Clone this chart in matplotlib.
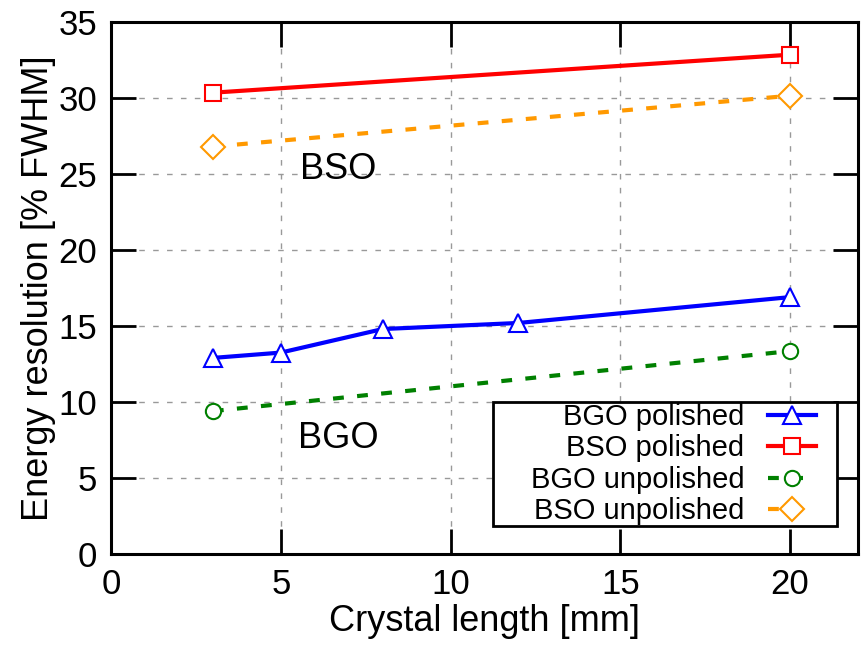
import matplotlib
matplotlib.use("Agg")
import matplotlib.pyplot as plt
from matplotlib.patches import Rectangle

plt.rcParams['font.family'] = ['Liberation Sans', 'DejaVu Sans']

bgo_pol_x = [3, 5, 8, 12, 20]
bgo_pol_y = [12.9, 13.25, 14.8, 15.2, 16.9]
bso_pol_x = [3, 20]
bso_pol_y = [30.35, 32.85]
bgo_unp_x = [3, 20]
bgo_unp_y = [9.4, 13.35]
bso_unp_x = [3, 20]
bso_unp_y = [26.8, 30.15]

xticks = [0, 5, 10, 15, 20]
yticks = [0, 5, 10, 15, 20, 25, 30, 35]

W, H = 862, 646
fig = plt.figure(figsize=(W/100, H/100), dpi=100)
ax = fig.add_axes([111/W, 1-554/H, (858-111)/W, (554-22)/H])

dash = (0, (2.6, 3.2))
ax.plot(bgo_pol_x, bgo_pol_y, color='#0000ff', lw=3, marker='^', ms=13,
        mfc='white', mec='#0000ff', mew=1.5, label='BGO polished', zorder=3)
ax.plot(bso_pol_x, bso_pol_y, color='#ff0000', lw=3, marker='s', ms=12,
        mfc='white', mec='#ff0000', mew=1.5, label='BSO polished', zorder=3)
ax.plot(bgo_unp_x, bgo_unp_y, color='#008000', lw=3, ls=dash, marker='o', ms=11,
        mfc='white', mec='#008000', mew=1.5, label='BGO unpolished', zorder=3)
ax.plot(bso_unp_x, bso_unp_y, color='#ff9900', lw=3, ls=dash, marker='D', ms=12,
        mfc='white', mec='#ff9900', mew=1.5, label='BSO unpolished', zorder=3)

ax.text(6.7, 25.3, 'BSO', fontsize=26, va='center', ha='center')
ax.text(6.7, 7.6, 'BGO', fontsize=26, va='center', ha='center')

ax.set_xlim(0, 22)
ax.set_ylim(0, 35)
ax.set_xticks(xticks)
ax.set_yticks(yticks)
ax.tick_params(direction='in', length=18, width=2, labelsize=25, pad=10,
               top=True, right=True)
for s in ax.spines.values():
    s.set_linewidth(2.2)
ax.grid(True, color='#999999', ls=(0, (4, 6)), lw=1)
ax.set_axisbelow(True)

ax.set_xlabel('Crystal length [mm]', fontsize=26, labelpad=2)
ax.set_ylabel('Energy resolution [% FWHM]', fontsize=26, labelpad=2)

# legend box (gnuplot-style key frame)
box = Rectangle((493/W, 1-526/H), (837-493)/W, (526-402)/H, transform=fig.transFigure,
                facecolor='white', edgecolor='black', lw=2, zorder=4)
ax.add_artist(box)
box.set_clip_on(False)

leg = ax.legend(loc='center right', bbox_to_anchor=(816/W, 1-464/H),
                bbox_transform=fig.transFigure, markerfirst=False,
                fontsize=21, frameon=False, handlelength=1.65, handletextpad=0.8,
                labelspacing=0.12, borderpad=0, borderaxespad=0)
leg.set_zorder(5)

fig.savefig('out.png', dpi=100)
